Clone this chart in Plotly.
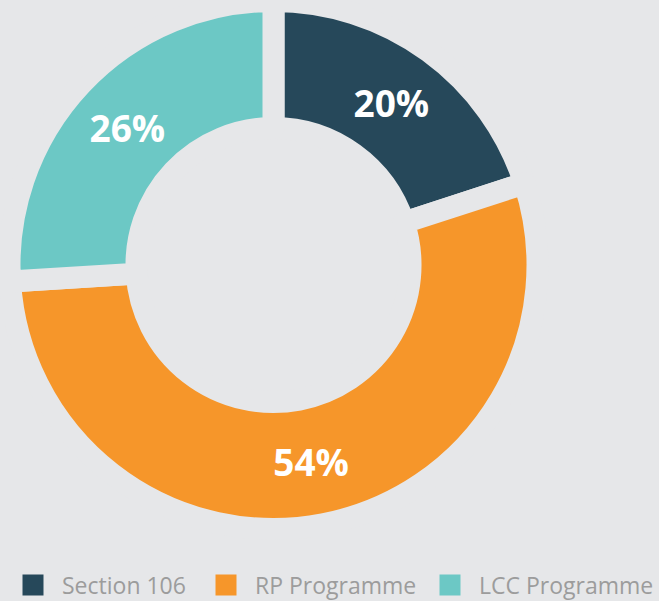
import plotly.graph_objects as go

categories = ["Section 106", "RP Programme", "LCC Programme"]
values = [20, 54, 26]
colors = ["#26485a", "#f6962a", "#6cc8c5"]

BG = "#e6e7e9"

fig = go.Figure()
fig.add_trace(go.Pie(
    labels=categories,
    values=values,
    sort=False,
    direction="clockwise",
    rotation=0,
    hole=0.519,
    marker=dict(colors=colors, line=dict(color=BG, width=22)),
    textinfo="percent",
    texttemplate="%{percent:.0%}",
    textposition="inside",
    insidetextorientation="horizontal",
    textfont=dict(family="Open Sans", size=37, color="white", weight="bold"),
    domain=dict(x=[9.5 / 659, 537.5 / 659], y=[72 / 601, 600 / 601]),
    showlegend=False,
    hoverinfo="label+percent",
))

legend_ids = ["legend", "legend2", "legend3"]
legend_x_px = [4, 197, 421]

# legend entries, one legend per item so each can sit where the reference shows it
for name, col, lid in zip(categories, colors, legend_ids):
    fig.add_trace(go.Scatter(
        x=[None], y=[None], mode="markers", name=name,
        marker=dict(symbol="square", size=16, color=col,
                    line=dict(color=col, width=5)),
        showlegend=True, legend=lid,
    ))

legend_style = dict(
    orientation="h",
    xanchor="left",
    y=16 / 601, yanchor="middle",
    itemwidth=48,
    font=dict(family="Open Sans", size=23, color="#9c9c9c"),
    bgcolor="rgba(0,0,0,0)",
)

fig.update_layout(
    width=659, height=601,
    margin=dict(l=0, r=0, t=0, b=0, autoexpand=False),
    paper_bgcolor=BG, plot_bgcolor=BG,
    xaxis=dict(visible=False),
    yaxis=dict(visible=False),
    legend=dict(x=legend_x_px[0] / 659, **legend_style),
    legend2=dict(x=legend_x_px[1] / 659, **legend_style),
    legend3=dict(x=legend_x_px[2] / 659, **legend_style),
)

fig.write_html(
    "out.html",
    config={"displayModeBar": False},
    post_script="document.body.style.margin='0';",
)
